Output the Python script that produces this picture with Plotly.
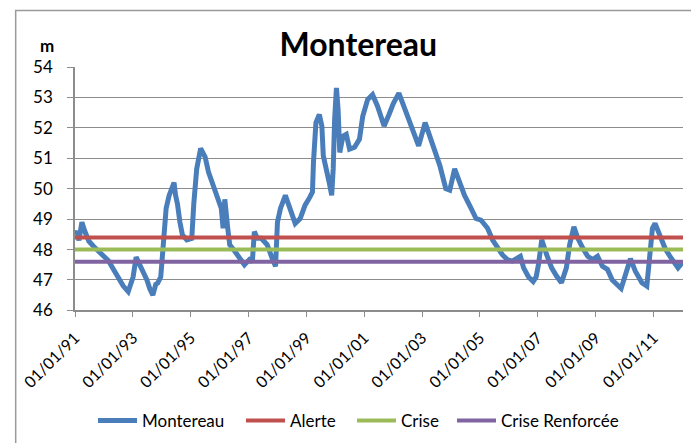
import plotly.graph_objects as go

# water level at Montereau (m)
dates = [
    "1991-01-01", "1991-01-26", "1991-02-20", "1991-03-29", "1991-05-05", "1991-06-24",
    "1991-08-25", "1991-10-27", "1991-12-28", "1992-02-28", "1992-04-30", "1992-07-02",
    "1992-09-02", "1992-11-03", "1992-12-10", "1993-01-04", "1993-02-11", "1993-03-20",
    "1993-05-09", "1993-06-27", "1993-08-04", "1993-09-10", "1993-10-17", "1993-11-11",
    "1993-12-19", "1994-01-13", "1994-01-31", "1994-02-25", "1994-04-04", "1994-05-05",
    "1994-06-05", "1994-06-23", "1994-07-18", "1994-08-18", "1994-09-19", "1994-11-14",
    "1995-01-15", "1995-02-09", "1995-03-18", "1995-05-07", "1995-06-07", "1995-07-02",
    "1995-08-14", "1995-09-27", "1995-11-03", "1995-12-11", "1996-01-23", "1996-02-14",
    "1996-03-07", "1996-04-13", "1996-05-08", "1996-07-09", "1996-09-09", "1996-11-10",
    "1997-01-12", "1997-02-18", "1997-03-15", "1997-04-21", "1997-06-10", "1997-08-24",
    "1997-10-25", "1997-12-08", "1998-01-01", "1998-02-08", "1998-04-11", "1998-06-12",
    "1998-08-13", "1998-10-15", "1998-12-16", "1999-02-16", "1999-03-19", "1999-04-01",
    "1999-05-02", "1999-06-14", "1999-07-16", "1999-08-03", "1999-09-16", "1999-10-17",
    "1999-11-17", "1999-12-06", "1999-12-24", "2000-01-16", "2000-02-06", "2000-02-27",
    "2000-04-08", "2000-05-19", "2000-06-30", "2000-09-01", "2000-11-02", "2000-12-13",
    "2001-02-13", "2001-04-16", "2001-06-18", "2001-09-09", "2001-11-10", "2002-01-03",
    "2002-03-15", "2002-05-16", "2002-07-17", "2002-09-17", "2002-11-19", "2003-02-09",
    "2003-04-12", "2003-06-13", "2003-08-14", "2003-10-28", "2003-12-17", "2004-02-17",
    "2004-04-19", "2004-06-21", "2004-09-12", "2004-11-13", "2005-01-14", "2005-04-08",
    "2005-06-09", "2005-08-10", "2005-10-11", "2005-12-13", "2006-02-13", "2006-04-07",
    "2006-05-27", "2006-07-07", "2006-09-07", "2006-11-05", "2006-12-12", "2007-01-10",
    "2007-02-21", "2007-04-24", "2007-06-26", "2007-08-27", "2007-10-28", "2007-12-29",
    "2008-02-08", "2008-04-02", "2008-05-22", "2008-07-23", "2008-09-23", "2008-11-24",
    "2009-01-26", "2009-03-29", "2009-05-30", "2009-07-31", "2009-10-01", "2009-11-20",
    "2010-01-14", "2010-03-17", "2010-05-18", "2010-08-09", "2010-10-10", "2010-11-21",
    "2010-12-20", "2011-01-22", "2011-03-25", "2011-05-27", "2011-07-28", "2011-09-28",
    "2011-11-08", "2012-01-10",
]
levels = [
    48.5, 48.6, 48.3, 48.9, 48.6, 48.28,
    48.1, 47.95, 47.8, 47.63, 47.35, 47.07,
    46.8, 46.62, 46.9, 47.1, 47.75, 47.55,
    47.3, 47.0, 46.7, 46.5, 46.86, 46.9,
    47.1, 48.05, 48.9, 49.35, 49.78, 50.0,
    50.2, 49.8, 49.5, 48.9, 48.48, 48.32,
    48.37, 49.5, 50.65, 51.32, 51.2, 51.05,
    50.55, 50.25, 50.0, 49.7, 49.35, 48.7,
    49.65, 48.7, 48.16, 47.95, 47.72, 47.5,
    47.67, 47.6, 48.59, 48.37, 48.37, 48.16,
    47.72, 47.45, 48.9, 49.35, 49.78, 49.35,
    48.86, 49.02, 49.46, 49.73, 49.89, 50.87,
    52.17, 52.44, 52.06, 51.08, 50.65, 50.2,
    49.78, 50.65, 52.28, 53.31, 52.6, 51.19,
    51.73, 51.79, 51.3, 51.36, 51.63, 52.38,
    52.93, 53.09, 52.71, 52.06, 52.44, 52.8,
    53.14, 52.71, 52.28, 51.95, 51.41, 52.17,
    51.73, 51.19, 50.76, 50.0, 49.95, 50.65,
    50.22, 49.78, 49.35, 49.02, 48.97, 48.7,
    48.32, 48.05, 47.83, 47.67, 47.62, 47.7,
    47.78, 47.4, 47.1, 46.95, 47.1, 47.5,
    48.32, 47.83, 47.4, 47.13, 46.91, 47.4,
    48.16, 48.75, 48.37, 48.05, 47.78, 47.67,
    47.78, 47.45, 47.35, 47.0, 46.86, 46.72,
    47.18, 47.7, 47.29, 46.91, 46.8, 47.83,
    48.7, 48.86, 48.48, 48.05, 47.78, 47.56,
    47.4, 47.6,
]

# seuils (m)
thresholds = ["Alerte", "Crise", "Crise Renforcée"]
threshold_levels = [48.4, 48.0, 47.6]
threshold_colors = ["#C0504D", "#9BBB59", "#8064A2"]

tick_dates = ["1991-01-01", "1993-01-01", "1995-01-01", "1997-01-01", "1999-01-01", "2001-01-01",
              "2003-01-01", "2005-01-01", "2007-01-01", "2009-01-01", "2011-01-01"]
tick_labels = ["01/01/91", "01/01/93", "01/01/95", "01/01/97", "01/01/99", "01/01/01",
               "01/01/03", "01/01/05", "01/01/07", "01/01/09", "01/01/11"]

FONT = "Lato, Carlito, Calibri, sans-serif"
GRID = "#8C8C8C"

# the page body has an 8px margin, so the figure is 8px smaller and shifted
W, H = 691, 435
OFF = 8

def cx(px):  # screen x -> container fraction
    return (px - OFF) / W

def cy(py):  # screen y -> container fraction
    return 1 - (py - OFF) / H

fig = go.Figure()
fig.add_trace(go.Scatter(x=dates, y=levels, mode="lines", name="Montereau",
                         line=dict(color="#4A7EBB", width=5), legend="legend"))

span = [dates[0], dates[-1]]
legend_ids = ["legend2", "legend3", "legend4"]
for name, lvl, col, lg in zip(thresholds, threshold_levels, threshold_colors, legend_ids):
    fig.add_trace(go.Scatter(x=span, y=[lvl, lvl], mode="lines", name=name,
                             line=dict(color=col, width=4), legend=lg))

legend_left = [102, 250, 361, 461]   # where each legend sample starts
legends = {}
for lg, left in zip(["legend"] + legend_ids, legend_left):
    legends[lg] = dict(orientation="h", x=cx(left - 9), xanchor="left", xref="container",
                       y=cy(421), yref="container", yanchor="middle",
                       font=dict(size=17, family=FONT), itemwidth=39,
                       bgcolor="rgba(0,0,0,0)")

fig.update_layout(
    width=W, height=H,
    margin=dict(l=60, r=16, t=59, b=130),
    paper_bgcolor="white", plot_bgcolor="white",
    font=dict(family=FONT, size=16, color="#000000"),
    title=dict(text="<b>Montereau</b>", x=0.466, xref="paper", xanchor="center",
               y=cy(45), yref="container", yanchor="middle",
               font=dict(family=FONT, size=32, color="#000000")),
    showlegend=True,
    xaxis=dict(type="date", range=[dates[0], dates[-1]],
               tickvals=tick_dates, ticktext=tick_labels, tickangle=-45,
               ticks="outside", ticklen=5, tickcolor=GRID, ticklabelstandoff=5,
               showline=True, linecolor=GRID, linewidth=2,
               showgrid=False, zeroline=False),
    yaxis=dict(range=[46, 54], dtick=1, ticks="outside", ticklen=6, tickcolor=GRID,
               tickfont=dict(size=17), ticklabelstandoff=11,
               showline=True, linecolor=GRID, linewidth=1.5,
               showgrid=True, gridcolor=GRID, gridwidth=1, zeroline=False),
    **legends,
)

fig.add_annotation(text="<b>m</b>", xref="paper", yref="paper",
                   xanchor="center", yanchor="middle",
                   x=(40 - 68) / 615, y=(313 - 45) / 246, showarrow=False,
                   font=dict(size=17))

# chart-area border, as in the spreadsheet export
fig.add_shape(type="rect", xref="paper", yref="paper",
              x0=(8 - 68) / 615, x1=(710 - 68) / 615,
              y0=(313 - 460) / 246, y1=(313 - 10) / 246,
              line=dict(color="#9A9A9A", width=1.5), layer="below")

fig.write_html("out.html")
